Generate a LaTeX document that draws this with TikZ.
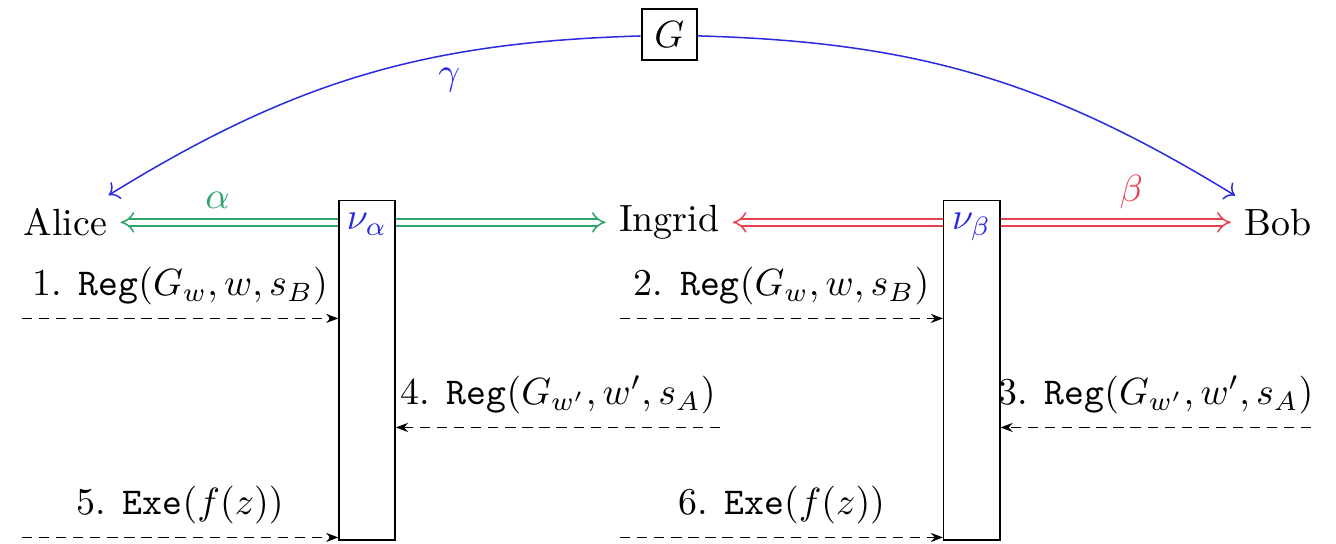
\documentclass[tikz,border=0pt]{standalone}
\usepackage{amsmath,amssymb}
\usepackage{xcolor}
\usepackage{tikz}
\usetikzlibrary{arrows.meta,positioning,calc}
\definecolor{chgreen}{HTML}{2EA56B}
\definecolor{chred}{HTML}{E8414F}
\definecolor{gblue}{HTML}{2B2BE0}
\tikzset{
  party/.style={font=\normalsize},
  gbox/.style={draw,line width=.5pt},
  nubox/.style={draw,fill=white,minimum width=5.2mm,minimum height=31.5mm},
  nulabel/.style={text=gblue},
  chan/.style={double,double distance=1.5pt,{Implies}-{Implies}},
  gcurve/.style={->,draw=gblue},
  msg/.style={-{Stealth[length=3.2pt]},dash pattern=on 2.7pt off 1.8pt}
}

\begin{document}
\begin{tikzpicture}
\useasboundingbox (0,0) rectangle (12.39,5.04);
\node[party] (alice) at (0.608,2.978) {Alice};
\node[party,right=4.5cm of alice] (ingrid) {Ingrid};
\node[party,right=4.62cm of ingrid] (bob) {Bob};
\node[gbox] (G) at (6.206,4.717) {$G$};

\draw[gcurve] (G) to[bend right=15] node[pos=.33,below,text=gblue]{$\gamma$} (alice);
\draw[gcurve] (G) to[bend left=15] (bob);

\draw[chan,draw=chgreen] (alice) -- node[pos=.2,above,text=chgreen]{$\alpha$} (ingrid);
\draw[chan,draw=chred] (ingrid) -- node[pos=.8,above,text=chred]{$\beta$} (bob);

% the two nu boxes
\node[nubox] (nua) at (3.404,1.605) {};
\node[nulabel,below=0pt of nua.north] (nual) {$\nu_\alpha$};
\node[nubox] (nub) at (9.012,1.605) {};
\node[nulabel,below=0pt of nub.north] (nubl) {$\nu_\beta$};

\coordinate (m1) at (0.204,2.087);
\coordinate (m2) at (5.751,2.087);
\coordinate (m3) at (12.16,1.076);
\coordinate (m4) at (6.679,1.076);
\coordinate (m5) at (0.204,0.056);
\coordinate (m6) at (5.751,0.056);

\draw[msg] (m1) -- node[above]{1. \texttt{Reg}$(G_w,w,s_B)$} (m1 -| nua.west);
\draw[msg] (m2) -- node[above]{2. \texttt{Reg}$(G_w,w,s_B)$} (m2 -| nub.west);
\draw[msg] (m3) -- node[above]{3. \texttt{Reg}$(G_{w'},w',s_A)$} (m3 -| nub.east);
\draw[msg] (m4) -- node[above]{4. \texttt{Reg}$(G_{w'},w',s_A)$} (m4 -| nua.east);
\draw[msg] (m5) -- node[above]{5. \texttt{Exe}$(f(z))$} (m5 -| nua.west);
\draw[msg] (m6) -- node[above]{6. \texttt{Exe}$(f(z))$} (m6 -| nub.west);
\end{tikzpicture}
\end{document}
